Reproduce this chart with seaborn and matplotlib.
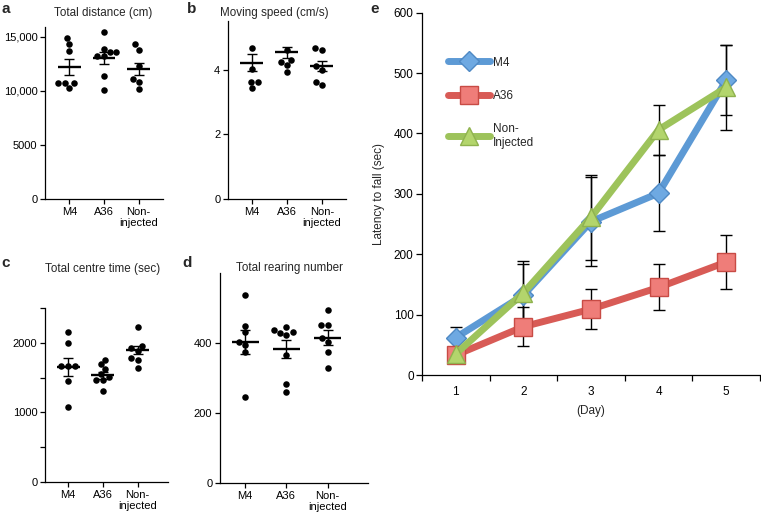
import numpy as np
import pandas as pd
import matplotlib
matplotlib.use('Agg')
import matplotlib.pyplot as plt
import seaborn as sns

sns.set_style('ticks')
plt.rcParams['font.family'] = ['Liberation Sans', 'DejaVu Sans']
plt.rcParams.update({
    'font.size': 8,
    'axes.linewidth': 0.9,
    'axes.edgecolor': 'black',
    'xtick.color': 'black',
    'ytick.color': 'black',
})

# ---- data ----
groups = ['M4', 'A36', 'Non-injected']
group_labels = ['M4', 'A36', 'Non-\ninjected']

# a: total distance (cm)
dist_m4 = [14880, 14330, 13650, 10730, 10730, 10730, 10280]
dist_a36 = [15400, 13850, 13550, 13550, 13200, 13200, 11410, 10030]
dist_non = [14330, 13800, 12300, 11100, 10800, 10190]
dist_mean = [12180, 13040, 12030]
dist_sem = [720, 535, 535]

# b: moving speed (cm/s)
speed_m4 = [4.67, 4.03, 3.62, 3.62, 3.42]
speed_a36 = [4.60, 4.31, 4.23, 4.14, 3.91]
speed_non = [4.67, 4.60, 4.11, 4.00, 3.62, 3.52]
speed_mean = [4.21, 4.53, 4.11]
speed_sem = [0.26, 0.16, 0.15]

# c: total centre time (sec)
centre_m4 = [2150, 1990, 1670, 1670, 1670, 1450, 1075]
centre_a36 = [1760, 1690, 1620, 1550, 1510, 1460, 1460, 1310]
centre_non = [2230, 1950, 1920, 1880, 1785, 1760, 1640]
centre_mean = [1655, 1535, 1895]
centre_sem = [133, 50, 55]

# d: total rearing number
rear_m4 = [536, 450, 431, 403, 393, 374, 246]
rear_a36 = [446, 438, 431, 430, 424, 367, 282, 260]
rear_non = [495, 452, 452, 414, 403, 374, 330]
rear_mean = [403, 384, 415]
rear_sem = [33, 26, 22]

# e: rotarod latency
days = [1, 2, 3, 4, 5]
lat_groups = ['M4', 'A36', 'Non-\nInjected']
lat_m4 = [62, 132, 254, 301, 488]
lat_m4_sem = [18, 52, 73, 63, 58]
lat_a36 = [33, 80, 109, 145, 187]
lat_a36_sem = [10, 32, 33, 38, 45]
lat_non = [35, 136, 261, 406, 476]
lat_non_sem = [12, 52, 70, 41, 70]

W, H = 761, 522
fig = plt.figure(figsize=(W / 100, H / 100), dpi=100)


def px_axes(x0, y0, x1, y1):
    return fig.add_axes([x0 / W, 1 - y1 / H, (x1 - x0) / W, (y1 - y0) / H])


def dot_panel(ax, values, means, sems, ylim, xlim):
    df = pd.DataFrame({
        'group': np.repeat(groups, [len(v) for v in values]),
        'value': np.concatenate(values),
    })
    sns.swarmplot(data=df, x='group', y='value', order=groups, color='black',
                  size=4.7, ax=ax, zorder=3)
    pos = np.arange(len(groups))
    ax.hlines(means, pos - 0.33, pos + 0.33, color='black', lw=1.7, zorder=4)
    ax.errorbar(pos, means, yerr=sems, fmt='none', ecolor='black',
                elinewidth=1, capsize=3.5, capthick=1, zorder=4)
    ax.set_xlim(*xlim)
    ax.set_ylim(*ylim)
    ax.set_xticks(pos, group_labels)
    ax.set_xlabel('')
    ax.set_ylabel('')
    ax.tick_params(direction='out', length=3.5, width=0.9, labelsize=8, pad=2)
    sns.despine(ax=ax)


# a
ax_a = px_axes(45, 27, 163, 199)
dot_panel(ax_a, [dist_m4, dist_a36, dist_non], dist_mean, dist_sem, (0, 15900), (-0.71, 2.71))
ax_a.set_yticks([0, 5000, 10000, 15000], ['0', '5000', '10,000', '15,000'])

# b
ax_b = px_axes(228, 21, 346, 199)
dot_panel(ax_b, [speed_m4, speed_a36, speed_non], speed_mean, speed_sem, (0, 5.5), (-0.68, 2.69))
ax_b.set_yticks([0, 2, 4], ['0', '2', '4'])

# c
ax_c = px_axes(45, 308, 168, 482)
dot_panel(ax_c, [centre_m4, centre_a36, centre_non], centre_mean, centre_sem, (0, 2500), (-0.67, 2.88))
ax_c.set_yticks([0, 1000, 2000], ['0', '1000', '2000'])
ax_c.set_yticks([500, 1500, 2500], minor=True)
ax_c.tick_params(axis='y', which='minor', direction='out', length=3.5, width=0.9)

# d
ax_d = px_axes(220, 273, 368, 483)
dot_panel(ax_d, [rear_m4, rear_a36, rear_non], rear_mean, rear_sem, (0, 600), (-0.61, 2.98))
ax_d.set_yticks([0, 200, 400], ['0', '200', '400'])

# titles and panel letters
fig.text(103 / W, 1 - 13 / H, 'Total distance (cm)', ha='center', va='center', fontsize=8.4)
fig.text(274 / W, 1 - 13 / H, 'Moving speed (cm/s)', ha='center', va='center', fontsize=8.4)
fig.text(103 / W, 1 - 269 / H, 'Total centre time (sec)', ha='center', va='center', fontsize=8.4)
fig.text(290 / W, 1 - 268 / H, 'Total rearing number', ha='center', va='center', fontsize=8.4)
for letter, x, y in [('a', 1, 2), ('b', 187, 2), ('c', 1, 256), ('d', 182, 256), ('e', 370, 2)]:
    fig.text(x / W, 1 - y / H, letter, ha='left', va='top', fontsize=11, fontweight='bold')

# e
ax_e = px_axes(422, 12.6, 760, 375)
df_e = pd.DataFrame({
    'day': days * 3,
    'latency': lat_m4 + lat_a36 + lat_non,
    'group': np.repeat(lat_groups, len(days)),
})
line_cols = ['#5D9AD5', '#D85B56', '#9DC35B']
face_cols = ['#6EA9E2', '#EF7D79', '#B3D56C']
edge_cols = ['#4F89C4', '#C84B45', '#8FB24E']
sizes = [10, 13, 13]
for g, vals, sem in zip(lat_groups, [lat_m4, lat_a36, lat_non], [lat_m4_sem, lat_a36_sem, lat_non_sem]):
    ax_e.errorbar(days, vals, yerr=sem, fmt='none', ecolor='black', elinewidth=1,
                  capsize=4, capthick=1, zorder=1)
sns.lineplot(data=df_e, x='day', y='latency', hue='group', style='group',
             hue_order=lat_groups, style_order=lat_groups, palette=line_cols,
             markers=['D', 's', '^'], dashes=False, lw=5, ax=ax_e, legend=False)
lines = [l for l in ax_e.lines if len(l.get_xdata()) == len(days)][-3:]
for l, fc, ec, ms in zip(lines, face_cols, edge_cols, sizes):
    l.set_markerfacecolor(fc)
    l.set_markeredgecolor(ec)
    l.set_markeredgewidth(1)
    l.set_markersize(ms)
    l.set_zorder(3)
ax_e.legend(lines, lat_groups, loc='upper left', bbox_to_anchor=(0.06, 0.895),
            frameon=False, fontsize=8.5, handlelength=3.5, handletextpad=0.3,
            labelspacing=1.8, borderpad=0)
ax_e.set_xlim(0.5, 5.5)
ax_e.set_ylim(0, 600)
ax_e.set_xticks(days, [str(d) for d in days])
ax_e.set_xticks(np.arange(0.5, 6, 1), minor=True)
ax_e.tick_params(axis='x', which='major', length=0, labelsize=8.5, pad=8)
ax_e.tick_params(axis='x', which='minor', direction='out', length=4, width=0.9)
ax_e.tick_params(axis='y', direction='out', length=4, width=0.9, labelsize=8.5, pad=2)
ax_e.set_yticks(range(0, 601, 100))
ax_e.set_xlabel('(Day)', fontsize=8.5, labelpad=5)
ax_e.set_ylabel('Latency to fall (sec)', fontsize=8.5, labelpad=6)
sns.despine(ax=ax_e)

fig.savefig('out.png', dpi=100)
